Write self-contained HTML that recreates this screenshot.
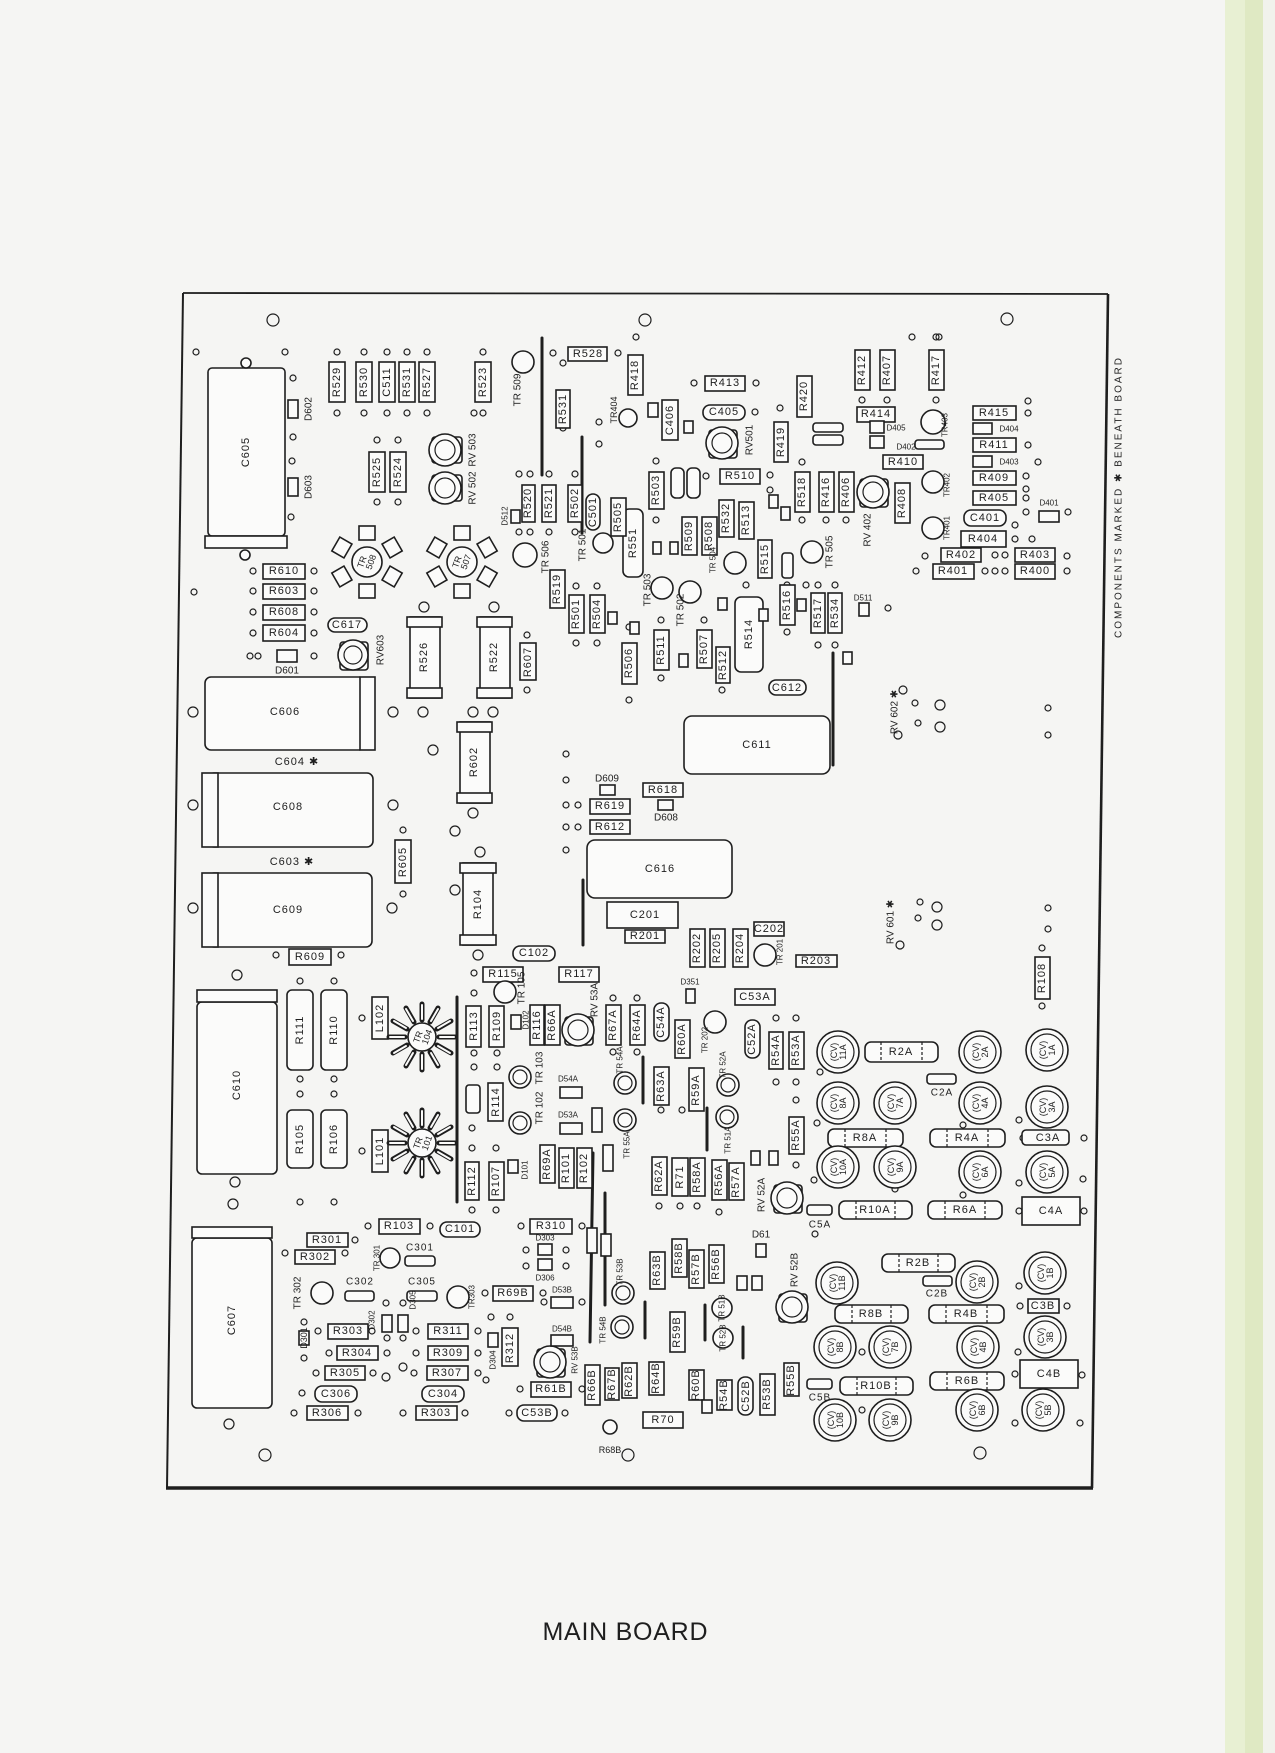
<!DOCTYPE html>
<html><head><meta charset="utf-8"><style>
html,body{margin:0;padding:0;background:#f5f5f3;}
svg{display:block}
.b rect,.b ellipse,.b circle,.b path{fill:#fbfbfa;stroke:#1e1e1e;stroke-width:1.6}
text{font-family:"Liberation Sans",sans-serif;font-size:11px;fill:#1e1e1e;text-anchor:middle;dominant-baseline:central;letter-spacing:1px}
.h circle{fill:none;stroke:#1e1e1e;stroke-width:1.2}
.w{stroke:#1e1e1e;stroke-width:3;stroke-linecap:round;fill:none}
.s text{font-size:8px;letter-spacing:0}
</style></head><body>
<svg width="1275" height="1753" viewBox="0 0 1275 1753" xmlns="http://www.w3.org/2000/svg">
<rect x="0" y="0" width="1275" height="1753" fill="#f5f5f3"/>
<rect x="1225" y="0" width="20" height="1753" fill="#e8f0d3"/>
<rect x="1245" y="0" width="18" height="1753" fill="#dfe9c3"/>
<rect x="1263" y="0" width="12" height="1753" fill="#f1f2ec"/>

<!-- board outline -->
<line x1="183" y1="293" x2="1108" y2="294" stroke="#1e1e1e" stroke-width="1.8"/>
<line x1="1108" y1="294" x2="1092" y2="1488" stroke="#1e1e1e" stroke-width="2.6"/>
<line x1="166" y1="1488" x2="1093" y2="1488" stroke="#1e1e1e" stroke-width="3.6"/>
<line x1="183" y1="293" x2="167" y2="1488" stroke="#1e1e1e" stroke-width="2"/>

<text x="1119" y="497" transform="rotate(-90 1119 497)" style="font-size:10px;letter-spacing:2px">COMPONENTS  MARKED  ✱  BENEATH  BOARD</text>
<text x="625" y="1632" textLength="165" style="font-size:25px;letter-spacing:0">MAIN  BOARD</text>

<!-- mounting holes -->
<g class="h">
<circle cx="273" cy="320" r="6"/><circle cx="645" cy="320" r="6"/><circle cx="1007" cy="319" r="6"/>
<circle cx="265" cy="1455" r="6"/><circle cx="980" cy="1453" r="6"/><circle cx="628" cy="1455" r="6"/>
<circle cx="196" cy="352" r="3"/><circle cx="285" cy="352" r="3"/><circle cx="293" cy="378" r="3"/><circle cx="293" cy="437" r="3"/><circle cx="292" cy="461" r="3"/><circle cx="291" cy="517" r="3"/><circle cx="194" cy="592" r="3"/>
<circle cx="337" cy="352" r="3"/><circle cx="364" cy="352" r="3"/><circle cx="387" cy="352" r="3"/><circle cx="407" cy="352" r="3"/><circle cx="427" cy="352" r="3"/><circle cx="483" cy="352" r="3"/>
<circle cx="337" cy="413" r="3"/><circle cx="364" cy="413" r="3"/><circle cx="387" cy="413" r="3"/><circle cx="407" cy="413" r="3"/><circle cx="427" cy="413" r="3"/><circle cx="483" cy="413" r="3"/><circle cx="474" cy="413" r="3"/>
<circle cx="377" cy="440" r="3"/><circle cx="398" cy="440" r="3"/><circle cx="377" cy="502" r="3"/><circle cx="398" cy="502" r="3"/>
<circle cx="253" cy="571" r="3"/><circle cx="314" cy="571" r="3"/><circle cx="253" cy="591" r="3"/><circle cx="314" cy="591" r="3"/><circle cx="253" cy="612" r="3"/><circle cx="314" cy="612" r="3"/><circle cx="253" cy="633" r="3"/><circle cx="314" cy="633" r="3"/><circle cx="250" cy="656" r="3"/><circle cx="258" cy="656" r="3"/><circle cx="314" cy="656" r="3"/>
<circle cx="527" cy="635" r="3"/><circle cx="527" cy="690" r="3"/>
<circle cx="433" cy="750" r="5"/><circle cx="455" cy="831" r="5"/><circle cx="455" cy="890" r="5"/>
<circle cx="403" cy="830" r="3"/><circle cx="403" cy="894" r="3"/>
<circle cx="276" cy="955" r="3"/><circle cx="341" cy="955" r="3"/>
<circle cx="300" cy="981" r="3"/><circle cx="334" cy="981" r="3"/><circle cx="300" cy="1079" r="3"/><circle cx="334" cy="1079" r="3"/><circle cx="300" cy="1094" r="3"/><circle cx="334" cy="1094" r="3"/><circle cx="300" cy="1202" r="3"/><circle cx="334" cy="1202" r="3"/><circle cx="362" cy="1018" r="3"/><circle cx="362" cy="1151" r="3"/>
<circle cx="566" cy="754" r="3"/><circle cx="566" cy="780" r="3"/><circle cx="566" cy="805" r="3"/><circle cx="566" cy="827" r="3"/><circle cx="566" cy="850" r="3"/><circle cx="578" cy="805" r="3"/><circle cx="578" cy="827" r="3"/>
<circle cx="474" cy="973" r="3"/><circle cx="474" cy="993" r="3"/><circle cx="474" cy="1053" r="3"/><circle cx="474" cy="1067" r="3"/><circle cx="497" cy="1053" r="3"/><circle cx="497" cy="1067" r="3"/><circle cx="472" cy="1128" r="3"/><circle cx="472" cy="1148" r="3"/><circle cx="496" cy="1148" r="3"/><circle cx="472" cy="1210" r="3"/><circle cx="496" cy="1210" r="3"/>
<circle cx="613" cy="998" r="3"/><circle cx="637" cy="998" r="3"/><circle cx="613" cy="1052" r="3"/><circle cx="637" cy="1052" r="3"/><circle cx="661" cy="1110" r="3"/><circle cx="682" cy="1110" r="3"/><circle cx="659" cy="1206" r="3"/><circle cx="680" cy="1206" r="3"/><circle cx="697" cy="1206" r="3"/><circle cx="719" cy="1212" r="3"/>
<circle cx="776" cy="1018" r="3"/><circle cx="796" cy="1018" r="3"/><circle cx="776" cy="1082" r="3"/><circle cx="796" cy="1082" r="3"/><circle cx="796" cy="1100" r="3"/><circle cx="796" cy="1165" r="3"/><circle cx="817" cy="1123" r="3"/><circle cx="820" cy="1072" r="3"/><circle cx="814" cy="1180" r="3"/><circle cx="815" cy="1234" r="3"/>
<circle cx="905" cy="1092" r="3"/><circle cx="895" cy="1189" r="3"/><circle cx="963" cy="1125" r="3"/><circle cx="963" cy="1195" r="3"/><circle cx="1019" cy="1120" r="3"/><circle cx="1019" cy="1183" r="3"/><circle cx="1083" cy="1179" r="3"/><circle cx="1019" cy="1211" r="3"/><circle cx="1084" cy="1211" r="3"/><circle cx="1023" cy="1138" r="3"/><circle cx="1084" cy="1138" r="3"/>
<circle cx="1019" cy="1286" r="3"/><circle cx="1020" cy="1306" r="3"/><circle cx="1067" cy="1306" r="3"/><circle cx="1018" cy="1352" r="3"/><circle cx="1015" cy="1374" r="3"/><circle cx="1082" cy="1375" r="3"/><circle cx="1015" cy="1423" r="3"/><circle cx="1080" cy="1423" r="3"/><circle cx="862" cy="1352" r="3"/><circle cx="862" cy="1410" r="3"/>
<circle cx="1042" cy="948" r="3"/><circle cx="1042" cy="1006" r="3"/><circle cx="1048" cy="908" r="3"/><circle cx="1048" cy="929" r="3"/>
<circle cx="937" cy="907" r="5"/><circle cx="937" cy="925" r="5"/><circle cx="918" cy="918" r="3"/><circle cx="900" cy="945" r="4"/><circle cx="920" cy="902" r="3"/>
<circle cx="903" cy="690" r="4"/><circle cx="915" cy="703" r="3"/><circle cx="940" cy="705" r="5"/><circle cx="940" cy="727" r="5"/><circle cx="918" cy="723" r="3"/><circle cx="898" cy="735" r="4"/><circle cx="1048" cy="708" r="3"/><circle cx="1048" cy="735" r="3"/>
<circle cx="912" cy="337" r="3"/><circle cx="939" cy="337" r="3"/><circle cx="936" cy="337" r="3"/><circle cx="862" cy="400" r="3"/><circle cx="887" cy="400" r="3"/><circle cx="936" cy="400" r="3"/>
<circle cx="1028" cy="401" r="3"/><circle cx="1028" cy="413" r="3"/><circle cx="1028" cy="445" r="3"/><circle cx="1038" cy="462" r="3"/><circle cx="1026" cy="476" r="3"/><circle cx="1026" cy="489" r="3"/><circle cx="1026" cy="498" r="3"/><circle cx="1026" cy="512" r="3"/><circle cx="1068" cy="512" r="3"/><circle cx="1015" cy="525" r="3"/><circle cx="1015" cy="539" r="3"/><circle cx="1032" cy="539" r="3"/><circle cx="925" cy="556" r="3"/><circle cx="916" cy="571" r="3"/><circle cx="995" cy="555" r="3"/><circle cx="1005" cy="555" r="3"/><circle cx="985" cy="571" r="3"/><circle cx="995" cy="571" r="3"/><circle cx="1005" cy="571" r="3"/><circle cx="1067" cy="556" r="3"/><circle cx="1067" cy="571" r="3"/>
<circle cx="563" cy="363" r="3"/><circle cx="563" cy="428" r="3"/><circle cx="553" cy="353" r="3"/><circle cx="618" cy="353" r="3"/><circle cx="636" cy="337" r="3"/><circle cx="599" cy="422" r="3"/><circle cx="599" cy="444" r="3"/>
<circle cx="519" cy="474" r="3"/><circle cx="530" cy="474" r="3"/><circle cx="549" cy="474" r="3"/><circle cx="575" cy="474" r="3"/><circle cx="519" cy="532" r="3"/><circle cx="530" cy="532" r="3"/><circle cx="549" cy="532" r="3"/><circle cx="575" cy="532" r="3"/>
<circle cx="656" cy="461" r="3"/><circle cx="656" cy="520" r="3"/><circle cx="706" cy="476" r="3"/><circle cx="756" cy="383" r="3"/><circle cx="694" cy="383" r="3"/><circle cx="755" cy="412" r="3"/><circle cx="780" cy="408" r="3"/><circle cx="802" cy="462" r="3"/><circle cx="802" cy="520" r="3"/><circle cx="826" cy="520" r="3"/><circle cx="846" cy="520" r="3"/><circle cx="770" cy="475" r="3"/><circle cx="770" cy="490" r="3"/>
<circle cx="576" cy="586" r="3"/><circle cx="597" cy="586" r="3"/><circle cx="576" cy="643" r="3"/><circle cx="597" cy="643" r="3"/><circle cx="629" cy="627" r="3"/><circle cx="629" cy="700" r="3"/><circle cx="661" cy="620" r="3"/><circle cx="661" cy="678" r="3"/><circle cx="704" cy="620" r="3"/><circle cx="722" cy="690" r="3"/><circle cx="746" cy="585" r="3"/><circle cx="787" cy="585" r="3"/><circle cx="787" cy="632" r="3"/><circle cx="806" cy="585" r="3"/><circle cx="818" cy="585" r="3"/><circle cx="835" cy="585" r="3"/><circle cx="818" cy="645" r="3"/><circle cx="835" cy="645" r="3"/><circle cx="888" cy="608" r="3"/><circle cx="846" cy="660" r="3"/>
<circle cx="493" cy="645" r="3"/><circle cx="493" cy="660" r="3"/>
<circle cx="313" cy="1240" r="3"/><circle cx="355" cy="1240" r="3"/><circle cx="285" cy="1253" r="3"/><circle cx="345" cy="1253" r="3"/><circle cx="368" cy="1226" r="3"/><circle cx="430" cy="1226" r="3"/>
<circle cx="304" cy="1322" r="3"/><circle cx="304" cy="1358" r="3"/><circle cx="318" cy="1331" r="3"/><circle cx="372" cy="1331" r="3"/><circle cx="329" cy="1353" r="3"/><circle cx="387" cy="1353" r="3"/><circle cx="316" cy="1373" r="3"/><circle cx="373" cy="1373" r="3"/><circle cx="302" cy="1393" r="3"/><circle cx="294" cy="1413" r="3"/><circle cx="358" cy="1413" r="3"/><circle cx="387" cy="1338" r="3"/><circle cx="403" cy="1338" r="3"/><circle cx="386" cy="1303" r="3"/><circle cx="403" cy="1303" r="3"/><circle cx="386" cy="1377" r="4"/><circle cx="403" cy="1367" r="4"/>
<circle cx="416" cy="1331" r="3"/><circle cx="416" cy="1353" r="3"/><circle cx="414" cy="1373" r="3"/><circle cx="478" cy="1331" r="3"/><circle cx="478" cy="1353" r="3"/><circle cx="478" cy="1373" r="3"/><circle cx="403" cy="1413" r="3"/><circle cx="465" cy="1413" r="3"/><circle cx="491" cy="1317" r="3"/><circle cx="510" cy="1317" r="3"/><circle cx="486" cy="1380" r="3"/>
<circle cx="521" cy="1226" r="3"/><circle cx="582" cy="1226" r="3"/><circle cx="526" cy="1250" r="3"/><circle cx="566" cy="1250" r="3"/><circle cx="526" cy="1266" r="3"/><circle cx="566" cy="1266" r="3"/><circle cx="485" cy="1293" r="3"/><circle cx="543" cy="1293" r="3"/><circle cx="544" cy="1302" r="3"/><circle cx="582" cy="1302" r="3"/><circle cx="520" cy="1389" r="3"/><circle cx="582" cy="1389" r="3"/><circle cx="509" cy="1413" r="3"/><circle cx="565" cy="1413" r="3"/>
</g>

<!-- wires -->
<line class="w" x1="542" y1="338" x2="542" y2="475"/>
<line class="w" x1="582" y1="437" x2="582" y2="533"/>
<line class="w" x1="833" y1="653" x2="833" y2="765"/>
<line class="w" x1="583" y1="880" x2="583" y2="945"/>
<line class="w" x1="457" y1="997" x2="457" y2="1202"/>
<line class="w" x1="643" y1="1057" x2="643" y2="1103"/>
<line class="w" x1="707" y1="1108" x2="707" y2="1150"/>
<line class="w" x1="593" y1="1153" x2="590" y2="1342"/>
<line class="w" x1="605" y1="1193" x2="605" y2="1305"/>
<line class="w" x1="705" y1="1305" x2="705" y2="1340"/>
<line class="w" x1="743" y1="1327" x2="743" y2="1358"/>
<line class="w" x1="645" y1="1302" x2="645" y2="1338"/>

<!-- large capacitors -->
<g class="b">
<rect x="208" y="368" width="77" height="168" rx="4"/><rect x="205" y="536" width="82" height="12"/>
<circle cx="246" cy="363" r="5"/><circle cx="245" cy="555" r="5"/>
<rect x="205" y="677" width="160" height="73" rx="6"/><rect x="360" y="677" width="15" height="73"/>
<rect x="208" y="773" width="165" height="74" rx="6"/><rect x="202" y="773" width="16" height="74"/>
<rect x="208" y="873" width="164" height="74" rx="6"/><rect x="202" y="873" width="16" height="74"/>
<rect x="197" y="1002" width="80" height="172" rx="5"/><rect x="197" y="990" width="80" height="12"/>
<rect x="192" y="1238" width="80" height="170" rx="5"/><rect x="192" y="1227" width="80" height="11"/>
<rect x="684" y="716" width="146" height="58" rx="8"/>
<rect x="587" y="840" width="145" height="58" rx="8"/>
<rect x="607" y="902" width="71" height="26"/>
</g>
<g class="h"><circle cx="193" cy="712" r="5"/><circle cx="393" cy="712" r="5"/><circle cx="423" cy="712" r="5"/><circle cx="473" cy="712" r="5"/><circle cx="493" cy="712" r="5"/><circle cx="193" cy="805" r="5"/><circle cx="393" cy="805" r="5"/><circle cx="193" cy="908" r="5"/><circle cx="392" cy="908" r="5"/><circle cx="473" cy="813" r="5"/><circle cx="480" cy="852" r="5"/><circle cx="478" cy="955" r="5"/><circle cx="237" cy="975" r="5"/><circle cx="235" cy="1182" r="5"/><circle cx="233" cy="1204" r="5"/><circle cx="229" cy="1424" r="5"/><circle cx="424" cy="607" r="5"/><circle cx="494" cy="607" r="5"/></g>
<text x="246" y="452" transform="rotate(-90 246 452)">C605</text>
<text x="285" y="712">C606</text><text x="297" y="762">C604 ✱</text>
<text x="288" y="807">C608</text><text x="292" y="862">C603 ✱</text>
<text x="288" y="910">C609</text>
<text x="237" y="1085" transform="rotate(-90 237 1085)">C610</text>
<text x="232" y="1320" transform="rotate(-90 232 1320)">C607</text>
<text x="757" y="745">C611</text><text x="660" y="869">C616</text><text x="645" y="915">C201</text>

<!-- big resistors with caps -->
<g class="b">
<rect x="410" y="617" width="30" height="81"/><rect x="407" y="617" width="35" height="10"/><rect x="407" y="688" width="35" height="10"/>
<rect x="480" y="617" width="30" height="81"/><rect x="477" y="617" width="35" height="10"/><rect x="477" y="688" width="35" height="10"/>
<rect x="460" y="722" width="30" height="81"/><rect x="457" y="722" width="35" height="10"/><rect x="457" y="793" width="35" height="10"/>
<rect x="463" y="863" width="30" height="82"/><rect x="460" y="863" width="36" height="10"/><rect x="460" y="935" width="36" height="10"/>
<rect x="287" y="990" width="26" height="80" rx="5"/><rect x="321" y="990" width="26" height="80" rx="5"/>
<rect x="287" y="1110" width="26" height="58" rx="5"/><rect x="321" y="1110" width="26" height="58" rx="5"/>
<rect x="735" y="597" width="28" height="75" rx="6"/>
<rect x="623" y="509" width="20" height="68" rx="6"/>
</g>
<text x="424" y="657" transform="rotate(-90 424 657)">R526</text>
<text x="494" y="657" transform="rotate(-90 494 657)">R522</text>
<text x="474" y="762" transform="rotate(-90 474 762)">R602</text>
<text x="478" y="904" transform="rotate(-90 478 904)">R104</text>
<text x="300" y="1030" transform="rotate(-90 300 1030)">R111</text>
<text x="334" y="1030" transform="rotate(-90 334 1030)">R110</text>
<text x="300" y="1139" transform="rotate(-90 300 1139)">R105</text>
<text x="334" y="1139" transform="rotate(-90 334 1139)">R106</text>
<text x="749" y="634" transform="rotate(-90 749 634)">R514</text>
<text x="633" y="543" transform="rotate(-90 633 543)">R551</text>

<!-- vertical small resistors -->
<g class="b">
<rect x="329" y="362" width="16" height="40"/><rect x="356" y="362" width="16" height="40"/><rect x="379" y="362" width="16" height="40"/><rect x="399" y="362" width="16" height="40"/><rect x="419" y="362" width="16" height="40"/><rect x="475" y="362" width="16" height="40"/>
<rect x="369" y="452" width="16" height="40"/><rect x="390" y="452" width="16" height="40"/>
<rect x="556" y="390" width="14" height="38"/><rect x="628" y="355" width="15" height="40"/><rect x="662" y="400" width="16" height="40"/>
<rect x="797" y="376" width="15" height="41"/><rect x="774" y="422" width="14" height="40"/><rect x="855" y="350" width="15" height="40"/><rect x="880" y="350" width="15" height="40"/><rect x="929" y="350" width="15" height="40"/>
<rect x="895" y="483" width="15" height="40"/><rect x="839" y="472" width="15" height="40"/><rect x="819" y="472" width="15" height="40"/><rect x="795" y="472" width="15" height="40"/>
<rect x="522" y="485" width="13" height="37"/><rect x="542" y="485" width="14" height="37"/><rect x="568" y="485" width="14" height="37"/>
<rect x="611" y="498" width="15" height="38"/><rect x="649" y="472" width="15" height="37"/>
<rect x="682" y="517" width="15" height="38"/><rect x="702" y="517" width="15" height="38"/><rect x="719" y="500" width="15" height="37"/><rect x="739" y="502" width="15" height="37"/><rect x="758" y="540" width="14" height="38"/>
<rect x="550" y="570" width="15" height="38"/><rect x="569" y="595" width="15" height="38"/><rect x="590" y="595" width="15" height="38"/>
<rect x="622" y="643" width="15" height="41"/><rect x="654" y="630" width="15" height="40"/><rect x="697" y="630" width="15" height="38"/><rect x="716" y="647" width="14" height="36"/>
<rect x="780" y="585" width="15" height="40"/><rect x="811" y="593" width="14" height="40"/><rect x="828" y="593" width="14" height="40"/>
<rect x="520" y="643" width="16" height="37"/><rect x="395" y="840" width="16" height="43"/>
<rect x="372" y="997" width="16" height="42"/><rect x="372" y="1130" width="16" height="42"/>
<rect x="466" y="1006" width="15" height="41"/><rect x="489" y="1006" width="15" height="41"/><rect x="530" y="1005" width="14" height="40"/><rect x="545" y="1005" width="15" height="40"/>
<rect x="606" y="1005" width="15" height="40"/><rect x="630" y="1005" width="15" height="40"/><rect x="675" y="1020" width="15" height="38"/>
<rect x="488" y="1083" width="15" height="38"/><rect x="654" y="1067" width="15" height="38"/><rect x="689" y="1068" width="15" height="43"/>
<rect x="769" y="1032" width="14" height="37"/><rect x="789" y="1032" width="15" height="37"/><rect x="789" y="1117" width="15" height="37"/>
<rect x="465" y="1162" width="14" height="38"/><rect x="489" y="1162" width="15" height="38"/>
<rect x="540" y="1145" width="15" height="38"/><rect x="559" y="1148" width="15" height="40"/><rect x="577" y="1148" width="15" height="40"/>
<rect x="652" y="1157" width="15" height="38"/><rect x="672" y="1158" width="16" height="38"/><rect x="690" y="1158" width="15" height="38"/><rect x="712" y="1160" width="15" height="40"/><rect x="729" y="1163" width="15" height="37"/>
<rect x="690" y="929" width="15" height="38"/><rect x="710" y="929" width="15" height="38"/><rect x="733" y="929" width="15" height="38"/>
<rect x="1035" y="957" width="15" height="42"/>
<rect x="650" y="1252" width="15" height="37"/><rect x="672" y="1239" width="15" height="38"/><rect x="689" y="1250" width="15" height="38"/><rect x="709" y="1245" width="15" height="38"/>
<rect x="670" y="1312" width="15" height="40"/><rect x="649" y="1362" width="15" height="33"/><rect x="689" y="1370" width="15" height="30"/><rect x="717" y="1380" width="15" height="30"/><rect x="760" y="1374" width="15" height="41"/><rect x="784" y="1363" width="15" height="33"/>
<rect x="585" y="1365" width="15" height="40"/><rect x="605" y="1368" width="14" height="32"/><rect x="622" y="1363" width="15" height="35"/>
<rect x="502" y="1328" width="16" height="38"/>
</g>
<g>
<text x="337" y="382" transform="rotate(-90 337 382)">R529</text><text x="364" y="382" transform="rotate(-90 364 382)">R530</text><text x="387" y="382" transform="rotate(-90 387 382)">C511</text><text x="407" y="382" transform="rotate(-90 407 382)">R531</text><text x="427" y="382" transform="rotate(-90 427 382)">R527</text><text x="483" y="382" transform="rotate(-90 483 382)">R523</text>
<text x="377" y="472" transform="rotate(-90 377 472)">R525</text><text x="398" y="472" transform="rotate(-90 398 472)">R524</text>
<text x="563" y="409" transform="rotate(-90 563 409)">R531</text><text x="635" y="375" transform="rotate(-90 635 375)">R418</text><text x="670" y="420" transform="rotate(-90 670 420)">C406</text>
<text x="804" y="396" transform="rotate(-90 804 396)">R420</text><text x="781" y="442" transform="rotate(-90 781 442)">R419</text><text x="862" y="370" transform="rotate(-90 862 370)">R412</text><text x="887" y="370" transform="rotate(-90 887 370)">R407</text><text x="936" y="370" transform="rotate(-90 936 370)">R417</text>
<text x="902" y="503" transform="rotate(-90 902 503)">R408</text><text x="846" y="492" transform="rotate(-90 846 492)">R406</text><text x="826" y="492" transform="rotate(-90 826 492)">R416</text><text x="802" y="492" transform="rotate(-90 802 492)">R518</text>
<text x="528" y="503" transform="rotate(-90 528 503)">R520</text><text x="549" y="503" transform="rotate(-90 549 503)">R521</text><text x="575" y="503" transform="rotate(-90 575 503)">R502</text>
<text x="618" y="517" transform="rotate(-90 618 517)">R505</text><text x="656" y="490" transform="rotate(-90 656 490)">R503</text>
<text x="689" y="536" transform="rotate(-90 689 536)">R509</text><text x="709" y="536" transform="rotate(-90 709 536)">R508</text><text x="726" y="518" transform="rotate(-90 726 518)">R532</text><text x="746" y="520" transform="rotate(-90 746 520)">R513</text><text x="765" y="559" transform="rotate(-90 765 559)">R515</text>
<text x="557" y="589" transform="rotate(-90 557 589)">R519</text><text x="576" y="614" transform="rotate(-90 576 614)">R501</text><text x="597" y="614" transform="rotate(-90 597 614)">R504</text>
<text x="629" y="663" transform="rotate(-90 629 663)">R506</text><text x="661" y="650" transform="rotate(-90 661 650)">R511</text><text x="704" y="649" transform="rotate(-90 704 649)">R507</text><text x="723" y="665" transform="rotate(-90 723 665)">R512</text>
<text x="787" y="605" transform="rotate(-90 787 605)">R516</text><text x="818" y="613" transform="rotate(-90 818 613)">R517</text><text x="835" y="613" transform="rotate(-90 835 613)">R534</text>
<text x="528" y="662" transform="rotate(-90 528 662)">R607</text><text x="403" y="862" transform="rotate(-90 403 862)">R605</text>
<text x="380" y="1018" transform="rotate(-90 380 1018)">L102</text><text x="380" y="1151" transform="rotate(-90 380 1151)">L101</text>
<text x="474" y="1026" transform="rotate(-90 474 1026)">R113</text><text x="497" y="1026" transform="rotate(-90 497 1026)">R109</text><text x="537" y="1025" transform="rotate(-90 537 1025)">R116</text><text x="552" y="1025" transform="rotate(-90 552 1025)">R66A</text>
<text x="613" y="1025" transform="rotate(-90 613 1025)">R67A</text><text x="637" y="1025" transform="rotate(-90 637 1025)">R64A</text><text x="682" y="1039" transform="rotate(-90 682 1039)">R60A</text>
<text x="496" y="1102" transform="rotate(-90 496 1102)">R114</text><text x="661" y="1086" transform="rotate(-90 661 1086)">R63A</text><text x="696" y="1090" transform="rotate(-90 696 1090)">R59A</text>
<text x="776" y="1050" transform="rotate(-90 776 1050)">R54A</text><text x="796" y="1050" transform="rotate(-90 796 1050)">R53A</text><text x="796" y="1135" transform="rotate(-90 796 1135)">R55A</text>
<text x="472" y="1181" transform="rotate(-90 472 1181)">R112</text><text x="496" y="1181" transform="rotate(-90 496 1181)">R107</text>
<text x="547" y="1164" transform="rotate(-90 547 1164)">R69A</text><text x="566" y="1168" transform="rotate(-90 566 1168)">R101</text><text x="584" y="1168" transform="rotate(-90 584 1168)">R102</text>
<text x="659" y="1176" transform="rotate(-90 659 1176)">R62A</text><text x="680" y="1177" transform="rotate(-90 680 1177)">R71</text><text x="697" y="1177" transform="rotate(-90 697 1177)">R58A</text><text x="719" y="1180" transform="rotate(-90 719 1180)">R56A</text><text x="736" y="1182" transform="rotate(-90 736 1182)">R57A</text>
<text x="697" y="948" transform="rotate(-90 697 948)">R202</text><text x="717" y="948" transform="rotate(-90 717 948)">R205</text><text x="740" y="948" transform="rotate(-90 740 948)">R204</text>
<text x="1042" y="978" transform="rotate(-90 1042 978)">R108</text>
<text x="657" y="1270" transform="rotate(-90 657 1270)">R63B</text><text x="679" y="1258" transform="rotate(-90 679 1258)">R58B</text><text x="696" y="1269" transform="rotate(-90 696 1269)">R57B</text><text x="716" y="1264" transform="rotate(-90 716 1264)">R56B</text>
<text x="677" y="1332" transform="rotate(-90 677 1332)">R59B</text><text x="656" y="1378" transform="rotate(-90 656 1378)">R64B</text><text x="696" y="1385" transform="rotate(-90 696 1385)">R60B</text><text x="724" y="1395" transform="rotate(-90 724 1395)">R54B</text><text x="767" y="1394" transform="rotate(-90 767 1394)">R53B</text><text x="791" y="1380" transform="rotate(-90 791 1380)">R55B</text>
<text x="592" y="1385" transform="rotate(-90 592 1385)">R66B</text><text x="612" y="1384" transform="rotate(-90 612 1384)">R67B</text><text x="629" y="1381" transform="rotate(-90 629 1381)">R62B</text><text x="510" y="1348" transform="rotate(-90 510 1348)">R312</text>
</g>

<!-- horizontal resistors -->
<g class="b">
<rect x="568" y="347" width="39" height="14"/><rect x="705" y="376" width="40" height="15"/><rect x="720" y="469" width="40" height="15"/><rect x="857" y="407" width="38" height="15"/><rect x="883" y="455" width="40" height="14"/>
<rect x="973" y="406" width="43" height="14"/><rect x="973" y="438" width="43" height="14"/><rect x="973" y="471" width="43" height="14"/><rect x="973" y="491" width="43" height="14"/>
<rect x="961" y="531" width="45" height="16"/><rect x="941" y="548" width="40" height="14"/><rect x="933" y="564" width="41" height="15"/><rect x="1015" y="548" width="40" height="14"/><rect x="1015" y="564" width="40" height="15"/>
<rect x="263" y="564" width="42" height="15"/><rect x="263" y="584" width="42" height="15"/><rect x="263" y="605" width="42" height="15"/><rect x="263" y="625" width="42" height="16"/>
<rect x="643" y="783" width="40" height="14"/><rect x="590" y="799" width="40" height="15"/><rect x="590" y="820" width="40" height="14"/><rect x="625" y="930" width="40" height="13"/>
<rect x="289" y="949" width="42" height="16"/><rect x="483" y="967" width="40" height="15"/><rect x="559" y="967" width="40" height="15"/><rect x="796" y="955" width="41" height="12"/><rect x="735" y="989" width="40" height="16"/>
<rect x="307" y="1233" width="41" height="14"/><rect x="295" y="1250" width="40" height="14"/><rect x="379" y="1219" width="41" height="15"/><rect x="530" y="1219" width="42" height="15"/>
<rect x="328" y="1324" width="40" height="15"/><rect x="337" y="1346" width="41" height="14"/><rect x="325" y="1366" width="40" height="14"/><rect x="307" y="1406" width="41" height="14"/>
<rect x="428" y="1324" width="40" height="15"/><rect x="428" y="1346" width="40" height="14"/><rect x="427" y="1366" width="41" height="14"/><rect x="416" y="1406" width="41" height="14"/>
<rect x="493" y="1286" width="40" height="15"/><rect x="531" y="1382" width="40" height="15"/><rect x="643" y="1412" width="40" height="16"/>
</g>
<g>
<text x="588" y="354">R528</text><text x="725" y="383">R413</text><text x="740" y="476">R510</text><text x="876" y="414">R414</text><text x="903" y="462">R410</text>
<text x="994" y="413">R415</text><text x="994" y="445">R411</text><text x="994" y="478">R409</text><text x="994" y="498">R405</text>
<text x="983" y="539">R404</text><text x="961" y="555">R402</text><text x="953" y="571">R401</text><text x="1035" y="555">R403</text><text x="1035" y="571">R400</text>
<text x="284" y="571">R610</text><text x="284" y="591">R603</text><text x="284" y="612">R608</text><text x="284" y="633">R604</text>
<text x="663" y="790">R618</text><text x="610" y="806">R619</text><text x="610" y="827">R612</text><text x="645" y="936">R201</text>
<text x="310" y="957">R609</text><text x="503" y="974">R115</text><text x="579" y="974">R117</text><text x="816" y="961">R203</text><text x="755" y="997">C53A</text>
<text x="327" y="1240">R301</text><text x="315" y="1257">R302</text><text x="399" y="1226">R103</text><text x="551" y="1226">R310</text>
<text x="348" y="1331">R303</text><text x="357" y="1353">R304</text><text x="345" y="1373">R305</text><text x="327" y="1413">R306</text>
<text x="448" y="1331">R311</text><text x="448" y="1353">R309</text><text x="447" y="1373">R307</text><text x="436" y="1413">R303</text>
<text x="513" y="1293">R69B</text><text x="551" y="1389">R61B</text><text x="663" y="1420">R70</text>
</g>

<!-- ovals / caps -->
<g class="b">
<rect x="703" y="405" width="42" height="15" rx="7"/><rect x="964" y="510" width="42" height="16" rx="7"/><rect x="328" y="618" width="39" height="14" rx="7"/><rect x="769" y="680" width="37" height="15" rx="7"/>
<rect x="586" y="494" width="14" height="36" rx="7"/><rect x="671" y="468" width="13" height="30" rx="5"/><rect x="687" y="468" width="13" height="30" rx="5"/>
<rect x="513" y="946" width="42" height="15" rx="7"/><rect x="654" y="1003" width="15" height="38" rx="7"/><rect x="745" y="1020" width="15" height="38" rx="7"/>
<rect x="440" y="1222" width="40" height="15" rx="7"/><rect x="315" y="1386" width="42" height="16" rx="7"/><rect x="422" y="1386" width="42" height="16" rx="7"/><rect x="517" y="1405" width="40" height="16" rx="7"/><rect x="738" y="1377" width="15" height="38" rx="7"/>
<rect x="813" y="423" width="30" height="9" rx="3"/><rect x="813" y="435" width="30" height="10" rx="3"/><rect x="915" y="440" width="29" height="9" rx="3"/><rect x="782" y="553" width="11" height="25" rx="3"/>
<rect x="405" y="1256" width="30" height="10" rx="3"/><rect x="345" y="1291" width="29" height="10" rx="3"/><rect x="407" y="1291" width="30" height="10" rx="3"/>
<rect x="807" y="1205" width="25" height="10" rx="3"/><rect x="807" y="1379" width="25" height="10" rx="3"/><rect x="927" y="1074" width="29" height="10" rx="3"/><rect x="923" y="1276" width="29" height="10" rx="3"/>
<rect x="754" y="922" width="30" height="14"/><rect x="1022" y="1130" width="47" height="15" rx="4"/><rect x="1028" y="1299" width="31" height="14"/>
<rect x="1022" y="1197" width="58" height="28"/><rect x="1020" y="1360" width="58" height="28"/>
<rect x="466" y="1085" width="14" height="28" rx="3"/>
</g>
<g>
<text x="724" y="412">C405</text><text x="985" y="518">C401</text><text x="347" y="625">C617</text><text x="787" y="688">C612</text>
<text x="593" y="512" transform="rotate(-90 593 512)">C501</text>
<text x="534" y="953">C102</text><text x="661" y="1022" transform="rotate(-90 661 1022)">C54A</text><text x="752" y="1039" transform="rotate(-90 752 1039)">C52A</text>
<text x="460" y="1229">C101</text><text x="336" y="1394">C306</text><text x="443" y="1394">C304</text><text x="537" y="1413">C53B</text><text x="746" y="1396" transform="rotate(-90 746 1396)">C52B</text>
<text x="769" y="929">C202</text><text x="1048" y="1138">C3A</text><text x="1043" y="1306">C3B</text><text x="1051" y="1211">C4A</text><text x="1049" y="1374">C4B</text>
<text x="820" y="1225" style="font-size:10px">C5A</text><text x="820" y="1398" style="font-size:10px">C5B</text><text x="942" y="1093" style="font-size:10px">C2A</text><text x="937" y="1294" style="font-size:10px">C2B</text>
<text x="420" y="1248" style="font-size:10px">C301</text><text x="360" y="1282" style="font-size:10px">C302</text><text x="422" y="1282" style="font-size:10px">C305</text>
</g>

<!-- fuse style resistors -->
<g class="b">
<rect x="865" y="1042" width="73" height="20" rx="6"/><rect x="828" y="1129" width="75" height="18" rx="6"/><rect x="930" y="1129" width="75" height="18" rx="6"/>
<rect x="839" y="1201" width="73" height="18" rx="6"/><rect x="928" y="1201" width="74" height="18" rx="6"/>
<rect x="882" y="1254" width="73" height="18" rx="6"/><rect x="835" y="1305" width="73" height="18" rx="6"/><rect x="929" y="1305" width="75" height="18" rx="6"/>
<rect x="840" y="1377" width="73" height="18" rx="6"/><rect x="930" y="1372" width="74" height="18" rx="6"/>
</g>
<g stroke="#1e1e1e" stroke-width="1.2" stroke-dasharray="3 2">
<line x1="881" y1="1042" x2="881" y2="1062"/><line x1="922" y1="1042" x2="922" y2="1062"/>
<line x1="845" y1="1129" x2="845" y2="1147"/><line x1="886" y1="1129" x2="886" y2="1147"/><line x1="947" y1="1129" x2="947" y2="1147"/><line x1="988" y1="1129" x2="988" y2="1147"/>
<line x1="856" y1="1201" x2="856" y2="1219"/><line x1="895" y1="1201" x2="895" y2="1219"/><line x1="945" y1="1201" x2="945" y2="1219"/><line x1="985" y1="1201" x2="985" y2="1219"/>
<line x1="899" y1="1254" x2="899" y2="1272"/><line x1="938" y1="1254" x2="938" y2="1272"/><line x1="852" y1="1305" x2="852" y2="1323"/><line x1="891" y1="1305" x2="891" y2="1323"/><line x1="946" y1="1305" x2="946" y2="1323"/><line x1="987" y1="1305" x2="987" y2="1323"/>
<line x1="857" y1="1377" x2="857" y2="1395"/><line x1="896" y1="1377" x2="896" y2="1395"/><line x1="947" y1="1372" x2="947" y2="1390"/><line x1="987" y1="1372" x2="987" y2="1390"/>
</g>
<g>
<text x="901" y="1052">R2A</text><text x="865" y="1138">R8A</text><text x="967" y="1138">R4A</text><text x="875" y="1210">R10A</text><text x="965" y="1210">R6A</text>
<text x="918" y="1263">R2B</text><text x="871" y="1314">R8B</text><text x="966" y="1314">R4B</text><text x="876" y="1386">R10B</text><text x="967" y="1381">R6B</text>
</g>

<!-- CV circles -->
<g class="b">
<circle cx="838" cy="1052" r="21"/><circle cx="980" cy="1052" r="21"/><circle cx="1047" cy="1050" r="21"/>
<circle cx="838" cy="1103" r="21"/><circle cx="895" cy="1103" r="21"/><circle cx="980" cy="1103" r="21"/><circle cx="1047" cy="1107" r="21"/>
<circle cx="838" cy="1167" r="21"/><circle cx="895" cy="1167" r="21"/><circle cx="980" cy="1172" r="21"/><circle cx="1047" cy="1172" r="21"/>
<circle cx="837" cy="1283" r="21"/><circle cx="977" cy="1282" r="21"/><circle cx="1045" cy="1273" r="21"/>
<circle cx="835" cy="1347" r="21"/><circle cx="890" cy="1347" r="21"/><circle cx="978" cy="1347" r="21"/><circle cx="1045" cy="1337" r="21"/>
<circle cx="835" cy="1420" r="21"/><circle cx="890" cy="1420" r="21"/><circle cx="977" cy="1410" r="21"/><circle cx="1043" cy="1410" r="21"/>
</g>
<g fill="none" stroke="#1e1e1e" stroke-width="1.2">
<circle cx="838" cy="1052" r="16"/><circle cx="980" cy="1052" r="16"/><circle cx="1047" cy="1050" r="16"/>
<circle cx="838" cy="1103" r="16"/><circle cx="895" cy="1103" r="16"/><circle cx="980" cy="1103" r="16"/><circle cx="1047" cy="1107" r="16"/>
<circle cx="838" cy="1167" r="16"/><circle cx="895" cy="1167" r="16"/><circle cx="980" cy="1172" r="16"/><circle cx="1047" cy="1172" r="16"/>
<circle cx="837" cy="1283" r="16"/><circle cx="977" cy="1282" r="16"/><circle cx="1045" cy="1273" r="16"/>
<circle cx="835" cy="1347" r="16"/><circle cx="890" cy="1347" r="16"/><circle cx="978" cy="1347" r="16"/><circle cx="1045" cy="1337" r="16"/>
<circle cx="835" cy="1420" r="16"/><circle cx="890" cy="1420" r="16"/><circle cx="977" cy="1410" r="16"/><circle cx="1043" cy="1410" r="16"/>
</g>
<g style="font-size:9px">
<text x="834" y="1052" transform="rotate(-90 834 1052)" style="font-size:9px;letter-spacing:0">(CV)</text><text x="843" y="1052" transform="rotate(-90 843 1052)" style="font-size:9px;letter-spacing:0">11A</text>
<text x="976" y="1052" transform="rotate(-90 976 1052)" style="font-size:9px;letter-spacing:0">(CV)</text><text x="985" y="1052" transform="rotate(-90 985 1052)" style="font-size:9px;letter-spacing:0">2A</text>
<text x="1043" y="1050" transform="rotate(-90 1043 1050)" style="font-size:9px;letter-spacing:0">(CV)</text><text x="1052" y="1050" transform="rotate(-90 1052 1050)" style="font-size:9px;letter-spacing:0">1A</text>
<text x="834" y="1103" transform="rotate(-90 834 1103)" style="font-size:9px;letter-spacing:0">(CV)</text><text x="843" y="1103" transform="rotate(-90 843 1103)" style="font-size:9px;letter-spacing:0">8A</text>
<text x="891" y="1103" transform="rotate(-90 891 1103)" style="font-size:9px;letter-spacing:0">(CV)</text><text x="900" y="1103" transform="rotate(-90 900 1103)" style="font-size:9px;letter-spacing:0">7A</text>
<text x="976" y="1103" transform="rotate(-90 976 1103)" style="font-size:9px;letter-spacing:0">(CV)</text><text x="985" y="1103" transform="rotate(-90 985 1103)" style="font-size:9px;letter-spacing:0">4A</text>
<text x="1043" y="1107" transform="rotate(-90 1043 1107)" style="font-size:9px;letter-spacing:0">(CV)</text><text x="1052" y="1107" transform="rotate(-90 1052 1107)" style="font-size:9px;letter-spacing:0">3A</text>
<text x="834" y="1167" transform="rotate(-90 834 1167)" style="font-size:9px;letter-spacing:0">(CV)</text><text x="843" y="1167" transform="rotate(-90 843 1167)" style="font-size:9px;letter-spacing:0">10A</text>
<text x="891" y="1167" transform="rotate(-90 891 1167)" style="font-size:9px;letter-spacing:0">(CV)</text><text x="900" y="1167" transform="rotate(-90 900 1167)" style="font-size:9px;letter-spacing:0">9A</text>
<text x="976" y="1172" transform="rotate(-90 976 1172)" style="font-size:9px;letter-spacing:0">(CV)</text><text x="985" y="1172" transform="rotate(-90 985 1172)" style="font-size:9px;letter-spacing:0">6A</text>
<text x="1043" y="1172" transform="rotate(-90 1043 1172)" style="font-size:9px;letter-spacing:0">(CV)</text><text x="1052" y="1172" transform="rotate(-90 1052 1172)" style="font-size:9px;letter-spacing:0">5A</text>
<text x="833" y="1283" transform="rotate(-90 833 1283)" style="font-size:9px;letter-spacing:0">(CV)</text><text x="842" y="1283" transform="rotate(-90 842 1283)" style="font-size:9px;letter-spacing:0">11B</text>
<text x="973" y="1282" transform="rotate(-90 973 1282)" style="font-size:9px;letter-spacing:0">(CV)</text><text x="982" y="1282" transform="rotate(-90 982 1282)" style="font-size:9px;letter-spacing:0">2B</text>
<text x="1041" y="1273" transform="rotate(-90 1041 1273)" style="font-size:9px;letter-spacing:0">(CV)</text><text x="1050" y="1273" transform="rotate(-90 1050 1273)" style="font-size:9px;letter-spacing:0">1B</text>
<text x="831" y="1347" transform="rotate(-90 831 1347)" style="font-size:9px;letter-spacing:0">(CV)</text><text x="840" y="1347" transform="rotate(-90 840 1347)" style="font-size:9px;letter-spacing:0">8B</text>
<text x="886" y="1347" transform="rotate(-90 886 1347)" style="font-size:9px;letter-spacing:0">(CV)</text><text x="895" y="1347" transform="rotate(-90 895 1347)" style="font-size:9px;letter-spacing:0">7B</text>
<text x="974" y="1347" transform="rotate(-90 974 1347)" style="font-size:9px;letter-spacing:0">(CV)</text><text x="983" y="1347" transform="rotate(-90 983 1347)" style="font-size:9px;letter-spacing:0">4B</text>
<text x="1041" y="1337" transform="rotate(-90 1041 1337)" style="font-size:9px;letter-spacing:0">(CV)</text><text x="1050" y="1337" transform="rotate(-90 1050 1337)" style="font-size:9px;letter-spacing:0">3B</text>
<text x="831" y="1420" transform="rotate(-90 831 1420)" style="font-size:9px;letter-spacing:0">(CV)</text><text x="840" y="1420" transform="rotate(-90 840 1420)" style="font-size:9px;letter-spacing:0">10B</text>
<text x="886" y="1420" transform="rotate(-90 886 1420)" style="font-size:9px;letter-spacing:0">(CV)</text><text x="895" y="1420" transform="rotate(-90 895 1420)" style="font-size:9px;letter-spacing:0">9B</text>
<text x="973" y="1410" transform="rotate(-90 973 1410)" style="font-size:9px;letter-spacing:0">(CV)</text><text x="982" y="1410" transform="rotate(-90 982 1410)" style="font-size:9px;letter-spacing:0">6B</text>
<text x="1039" y="1410" transform="rotate(-90 1039 1410)" style="font-size:9px;letter-spacing:0">(CV)</text><text x="1048" y="1410" transform="rotate(-90 1048 1410)" style="font-size:9px;letter-spacing:0">5B</text>
</g>

<!-- trimmers RV -->
<g class="b">
<rect x="432" y="437" width="30" height="26" rx="3"/><circle cx="445" cy="450" r="16"/>
<rect x="432" y="475" width="30" height="26" rx="3"/><circle cx="445" cy="488" r="16"/>
<rect x="709" y="430" width="28" height="28" rx="3"/><circle cx="722" cy="443" r="16"/>
<rect x="860" y="479" width="28" height="28" rx="3"/><circle cx="873" cy="492" r="16"/>
<rect x="340" y="642" width="28" height="28" rx="3"/><circle cx="353" cy="655" r="15"/>
<rect x="565" y="1017" width="28" height="28" rx="3"/><circle cx="578" cy="1030" r="16"/>
<rect x="774" y="1185" width="28" height="28" rx="3"/><circle cx="787" cy="1198" r="16"/>
<rect x="779" y="1294" width="28" height="28" rx="3"/><circle cx="792" cy="1307" r="16"/>
<rect x="537" y="1349" width="28" height="28" rx="3"/><circle cx="550" cy="1362" r="16"/>
</g>
<g fill="none" stroke="#1e1e1e" stroke-width="1.2">
<circle cx="445" cy="450" r="10"/><circle cx="445" cy="488" r="10"/><circle cx="722" cy="443" r="10"/><circle cx="873" cy="492" r="10"/><circle cx="353" cy="655" r="9"/><circle cx="578" cy="1030" r="10"/><circle cx="787" cy="1198" r="10"/><circle cx="792" cy="1307" r="10"/><circle cx="550" cy="1362" r="10"/>
</g>
<g class="s">
<text x="473" y="450" transform="rotate(-90 473 450)" style="font-size:10px">RV 503</text>
<text x="473" y="488" transform="rotate(-90 473 488)" style="font-size:10px">RV 502</text>
<text x="750" y="440" transform="rotate(-90 750 440)" style="font-size:10px">RV501</text>
<text x="868" y="530" transform="rotate(-90 868 530)" style="font-size:10px">RV 402</text>
<text x="381" y="650" transform="rotate(-90 381 650)" style="font-size:10px">RV603</text>
<text x="595" y="1000" transform="rotate(-90 595 1000)" style="font-size:10px">RV 53A</text>
<text x="762" y="1195" transform="rotate(-90 762 1195)" style="font-size:10px">RV 52A</text>
<text x="795" y="1270" transform="rotate(-90 795 1270)" style="font-size:10px">RV 52B</text>
<text x="575" y="1360" transform="rotate(-90 575 1360)">RV 53B</text>
<text x="895" y="712" transform="rotate(-90 895 712)" style="font-size:10px">RV 602 ✱</text>
<text x="891" y="922" transform="rotate(-90 891 922)" style="font-size:10px">RV 601 ✱</text>
</g>

<!-- power transistors star -->
<g class="b" transform="translate(367,562)">
<circle r="15"/>
<rect x="-8" y="-36" width="16" height="14"/><rect x="-8" y="22" width="16" height="14"/>
<rect x="-8" y="-36" width="16" height="14" transform="rotate(60)"/><rect x="-8" y="-36" width="16" height="14" transform="rotate(120)"/><rect x="-8" y="-36" width="16" height="14" transform="rotate(240)"/><rect x="-8" y="-36" width="16" height="14" transform="rotate(300)"/>
</g>
<g class="b" transform="translate(462,562)">
<circle r="15"/>
<rect x="-8" y="-36" width="16" height="14"/><rect x="-8" y="22" width="16" height="14"/>
<rect x="-8" y="-36" width="16" height="14" transform="rotate(60)"/><rect x="-8" y="-36" width="16" height="14" transform="rotate(120)"/><rect x="-8" y="-36" width="16" height="14" transform="rotate(240)"/><rect x="-8" y="-36" width="16" height="14" transform="rotate(300)"/>
</g>
<text x="362" y="562" transform="rotate(-70 362 562)" style="font-size:9px;letter-spacing:0">TR</text><text x="371" y="562" transform="rotate(-70 371 562)" style="font-size:9px;letter-spacing:0">508</text>
<text x="457" y="562" transform="rotate(-70 457 562)" style="font-size:9px;letter-spacing:0">TR</text><text x="466" y="562" transform="rotate(-70 466 562)" style="font-size:9px;letter-spacing:0">507</text>

<g stroke="#1e1e1e" stroke-width="5" stroke-linecap="round" fill="none">
<g transform="translate(422,1037)">
<line x1="17" y1="0" x2="33" y2="0"/><line x1="-17" y1="0" x2="-33" y2="0"/><line x1="0" y1="17" x2="0" y2="33"/><line x1="0" y1="-17" x2="0" y2="-33"/>
<line x1="15" y1="8" x2="29" y2="16"/><line x1="-15" y1="8" x2="-29" y2="16"/><line x1="15" y1="-8" x2="29" y2="-16"/><line x1="-15" y1="-8" x2="-29" y2="-16"/>
<line x1="8" y1="15" x2="16" y2="29"/><line x1="-8" y1="15" x2="-16" y2="29"/><line x1="8" y1="-15" x2="16" y2="-29"/><line x1="-8" y1="-15" x2="-16" y2="-29"/>
</g>
<g transform="translate(422,1143)">
<line x1="17" y1="0" x2="33" y2="0"/><line x1="-17" y1="0" x2="-33" y2="0"/><line x1="0" y1="17" x2="0" y2="33"/><line x1="0" y1="-17" x2="0" y2="-33"/>
<line x1="15" y1="8" x2="29" y2="16"/><line x1="-15" y1="8" x2="-29" y2="16"/><line x1="15" y1="-8" x2="29" y2="-16"/><line x1="-15" y1="-8" x2="-29" y2="-16"/>
<line x1="8" y1="15" x2="16" y2="29"/><line x1="-8" y1="15" x2="-16" y2="29"/><line x1="8" y1="-15" x2="16" y2="-29"/><line x1="-8" y1="-15" x2="-16" y2="-29"/>
</g>
</g>
<g stroke="#fbfbfa" stroke-width="2" stroke-linecap="round" fill="none">
<g transform="translate(422,1037)">
<line x1="18" y1="0" x2="32" y2="0"/><line x1="-18" y1="0" x2="-32" y2="0"/><line x1="0" y1="18" x2="0" y2="32"/><line x1="0" y1="-18" x2="0" y2="-32"/>
<line x1="16" y1="9" x2="28" y2="16"/><line x1="-16" y1="9" x2="-28" y2="16"/><line x1="16" y1="-9" x2="28" y2="-16"/><line x1="-16" y1="-9" x2="-28" y2="-16"/>
<line x1="9" y1="16" x2="16" y2="28"/><line x1="-9" y1="16" x2="-16" y2="28"/><line x1="9" y1="-16" x2="16" y2="-28"/><line x1="-9" y1="-16" x2="-16" y2="-28"/>
</g>
<g transform="translate(422,1143)">
<line x1="18" y1="0" x2="32" y2="0"/><line x1="-18" y1="0" x2="-32" y2="0"/><line x1="0" y1="18" x2="0" y2="32"/><line x1="0" y1="-18" x2="0" y2="-32"/>
<line x1="16" y1="9" x2="28" y2="16"/><line x1="-16" y1="9" x2="-28" y2="16"/><line x1="16" y1="-9" x2="28" y2="-16"/><line x1="-16" y1="-9" x2="-28" y2="-16"/>
<line x1="9" y1="16" x2="16" y2="28"/><line x1="-9" y1="16" x2="-16" y2="28"/><line x1="9" y1="-16" x2="16" y2="-28"/><line x1="-9" y1="-16" x2="-16" y2="-28"/>
</g>
</g>
<g class="b"><circle cx="422" cy="1037" r="14"/><circle cx="422" cy="1143" r="14"/></g>
<text x="418" y="1037" transform="rotate(-70 418 1037)" style="font-size:9px;letter-spacing:0">TR</text><text x="427" y="1037" transform="rotate(-70 427 1037)" style="font-size:9px;letter-spacing:0">104</text>
<text x="418" y="1143" transform="rotate(-70 418 1143)" style="font-size:9px;letter-spacing:0">TR</text><text x="427" y="1143" transform="rotate(-70 427 1143)" style="font-size:9px;letter-spacing:0">101</text>

<!-- small transistors -->
<g class="b">
<circle cx="523" cy="362" r="11"/><circle cx="628" cy="418" r="9"/><circle cx="933" cy="422" r="12"/><circle cx="933" cy="482" r="11"/><circle cx="933" cy="528" r="11"/>
<circle cx="525" cy="555" r="12"/><circle cx="603" cy="543" r="10"/><circle cx="735" cy="563" r="11"/><circle cx="662" cy="588" r="11"/><circle cx="690" cy="592" r="11"/><circle cx="812" cy="552" r="11"/>
<circle cx="505" cy="992" r="11"/><circle cx="765" cy="955" r="11"/><circle cx="715" cy="1022" r="11"/>
<circle cx="520" cy="1077" r="11"/><circle cx="520" cy="1123" r="11"/><circle cx="625" cy="1083" r="11"/><circle cx="625" cy="1120" r="11"/><circle cx="728" cy="1085" r="11"/><circle cx="727" cy="1117" r="11"/>
<circle cx="390" cy="1258" r="10"/><circle cx="322" cy="1293" r="11"/><circle cx="458" cy="1297" r="11"/>
<circle cx="623" cy="1293" r="11"/><circle cx="622" cy="1327" r="11"/><circle cx="722" cy="1308" r="10"/><circle cx="723" cy="1338" r="10"/><circle cx="610" cy="1427" r="7"/>
</g>
<g fill="none" stroke="#1e1e1e" stroke-width="1.2">
<circle cx="520" cy="1077" r="7"/><circle cx="520" cy="1123" r="7"/><circle cx="625" cy="1083" r="7"/><circle cx="625" cy="1120" r="7"/><circle cx="728" cy="1085" r="7"/><circle cx="727" cy="1117" r="7"/><circle cx="623" cy="1293" r="7"/><circle cx="622" cy="1327" r="7"/>
</g>
<g class="s">
<text x="518" y="390" transform="rotate(-90 518 390)" style="font-size:10px">TR 509</text>
<text x="614" y="410" transform="rotate(-90 614 410)" style="font-size:9px">TR404</text>
<text x="945" y="425" transform="rotate(-90 945 425)">TR403</text><text x="947" y="485" transform="rotate(-90 947 485)">TR402</text><text x="947" y="528" transform="rotate(-90 947 528)">TR401</text>
<text x="546" y="557" transform="rotate(-90 546 557)" style="font-size:10px">TR 506</text>
<text x="583" y="545" transform="rotate(-90 583 545)" style="font-size:10px">TR 501</text>
<text x="713" y="560" transform="rotate(-90 713 560)">TR 504</text>
<text x="648" y="590" transform="rotate(-90 648 590)" style="font-size:10px">TR 503</text>
<text x="681" y="610" transform="rotate(-90 681 610)" style="font-size:10px">TR 502</text>
<text x="830" y="552" transform="rotate(-90 830 552)" style="font-size:10px">TR 505</text>
<text x="522" y="988" transform="rotate(-90 522 988)" style="font-size:10px">TR 105</text>
<text x="780" y="952" transform="rotate(-90 780 952)">TR 201</text>
<text x="705" y="1040" transform="rotate(-90 705 1040)">TR 202</text>
<text x="540" y="1068" transform="rotate(-90 540 1068)" style="font-size:10px">TR 103</text>
<text x="540" y="1108" transform="rotate(-90 540 1108)" style="font-size:10px">TR 102</text>
<text x="620" y="1060" transform="rotate(-90 620 1060)">TR 54A</text><text x="627" y="1145" transform="rotate(-90 627 1145)">TR 55A</text>
<text x="723" y="1065" transform="rotate(-90 723 1065)">TR 52A</text><text x="728" y="1140" transform="rotate(-90 728 1140)">TR 51A</text>
<text x="377" y="1258" transform="rotate(-90 377 1258)">TR 301</text>
<text x="298" y="1293" transform="rotate(-90 298 1293)" style="font-size:10px">TR 302</text>
<text x="472" y="1297" transform="rotate(-90 472 1297)">TR303</text>
<text x="620" y="1272" transform="rotate(-90 620 1272)">TR 53B</text><text x="603" y="1330" transform="rotate(-90 603 1330)">TR 54B</text>
<text x="722" y="1308" transform="rotate(-90 722 1308)">TR 51B</text><text x="723" y="1338" transform="rotate(-90 723 1338)">TR 52B</text>
<text x="610" y="1450" style="font-size:9px">R68B</text>
</g>

<!-- diodes -->
<g class="b">
<rect x="288" y="400" width="10" height="18"/><rect x="288" y="478" width="10" height="18"/><rect x="277" y="650" width="20" height="12"/>
<rect x="511" y="510" width="9" height="13"/><rect x="648" y="403" width="10" height="14"/><rect x="684" y="421" width="9" height="12"/>
<rect x="870" y="421" width="14" height="12"/><rect x="870" y="436" width="14" height="12"/><rect x="973" y="423" width="19" height="11"/><rect x="973" y="456" width="19" height="11"/><rect x="1039" y="511" width="20" height="11"/>
<rect x="653" y="542" width="8" height="12"/><rect x="670" y="542" width="8" height="12"/><rect x="769" y="495" width="9" height="13"/><rect x="781" y="507" width="9" height="13"/><rect x="630" y="622" width="9" height="12"/><rect x="679" y="654" width="9" height="13"/><rect x="718" y="598" width="9" height="12"/><rect x="759" y="609" width="9" height="12"/><rect x="797" y="599" width="9" height="12"/><rect x="843" y="652" width="9" height="12"/><rect x="859" y="603" width="10" height="13"/><rect x="608" y="612" width="9" height="12"/>
<rect x="600" y="785" width="15" height="10"/><rect x="658" y="800" width="15" height="10"/>
<rect x="511" y="1015" width="10" height="14"/><rect x="560" y="1087" width="22" height="11"/><rect x="560" y="1123" width="22" height="11"/><rect x="592" y="1108" width="10" height="24"/><rect x="603" y="1145" width="10" height="26"/><rect x="508" y="1160" width="10" height="13"/>
<rect x="686" y="989" width="9" height="14"/><rect x="751" y="1151" width="9" height="14"/><rect x="769" y="1151" width="9" height="14"/><rect x="756" y="1244" width="10" height="13"/><rect x="737" y="1276" width="10" height="14"/><rect x="752" y="1276" width="10" height="14"/><rect x="702" y="1400" width="10" height="13"/>
<rect x="299" y="1331" width="10" height="14"/><rect x="382" y="1315" width="10" height="17"/><rect x="398" y="1315" width="10" height="17"/><rect x="488" y="1333" width="10" height="14"/>
<rect x="538" y="1244" width="14" height="11"/><rect x="538" y="1259" width="14" height="11"/><rect x="551" y="1297" width="22" height="11"/><rect x="551" y="1335" width="22" height="11"/><rect x="587" y="1228" width="10" height="25"/><rect x="601" y="1234" width="10" height="22"/>
</g>
<g class="s">
<text x="309" y="409" transform="rotate(-90 309 409)" style="font-size:10px">D602</text><text x="309" y="487" transform="rotate(-90 309 487)" style="font-size:10px">D603</text><text x="287" y="671" style="font-size:10px">D601</text>
<text x="896" y="428">D405</text><text x="906" y="447">D402</text><text x="1009" y="429">D404</text><text x="1009" y="462">D403</text><text x="1049" y="503">D401</text>
<text x="607" y="779" style="font-size:10px">D609</text><text x="666" y="818" style="font-size:10px">D608</text>
<text x="568" y="1079">D54A</text><text x="568" y="1115">D53A</text><text x="690" y="982">D351</text><text x="545" y="1238">D303</text><text x="545" y="1278">D306</text><text x="562" y="1290">D53B</text><text x="562" y="1329">D54B</text>
<text x="761" y="1235" style="font-size:10px">D61</text><text x="863" y="598">D511</text><text x="304" y="1338" transform="rotate(-90 304 1338)" style="font-size:9px">D301</text>
<text x="372" y="1320" transform="rotate(-90 372 1320)">D302</text><text x="413" y="1300" transform="rotate(-90 413 1300)">D305</text><text x="493" y="1360" transform="rotate(-90 493 1360)">D304</text>
<text x="525" y="1170" transform="rotate(-90 525 1170)">D101</text><text x="526" y="1020" transform="rotate(-90 526 1020)">D102</text><text x="505" y="516" transform="rotate(-90 505 516)">D512</text>
</g>
</svg>
</body></html>
